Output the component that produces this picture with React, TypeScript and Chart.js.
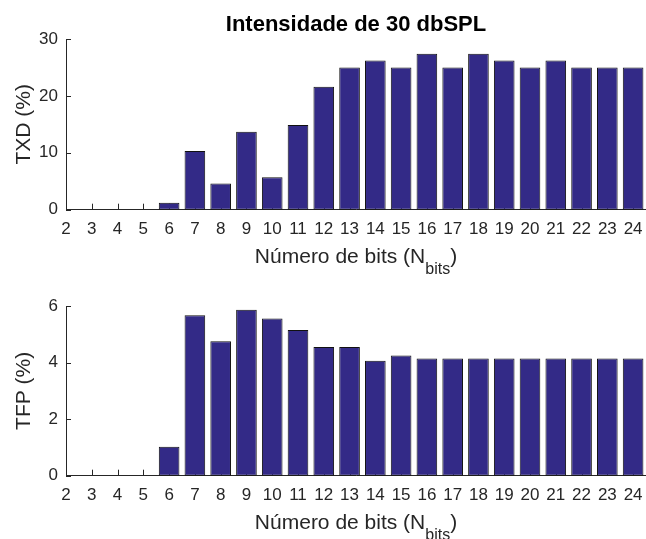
import React, { useEffect, useRef } from 'react';
import { Chart, registerables } from 'chart.js';

Chart.register(...registerables);

const bits = [2, 3, 4, 5, 6, 7, 8, 9, 10, 11, 12, 13, 14, 15, 16, 17, 18, 19, 20, 21, 22, 23, 24];
const txd = [0, 0, 0, 0, 1.2, 10.3, 4.6, 13.7, 5.7, 14.9, 21.6, 25, 26.2, 25, 27.4, 25, 27.4, 26.2, 25, 26.2, 25, 25, 25];
const tfp = [0, 0, 0, 0, 1.02, 5.67, 4.75, 5.87, 5.56, 5.15, 4.55, 4.55, 4.06, 4.25, 4.14, 4.14, 4.14, 4.14, 4.14, 4.14, 4.14, 4.14, 4.14];
const txdTicks = [0, 10, 20, 30];
const tfpTicks = [0, 2, 4, 6];
const chartTitle = 'Intensidade de 30 dbSPL';
const xTitleMain = 'Número de bits (N';
const xTitleSub = 'bits';
const xTitleEnd = ')';
const txdLabel = 'TXD (%)';
const tfpLabel = 'TFP (%)';

const FONT = "'Liberation Sans', Arial, Helvetica, sans-serif";
const AXIS_COLOR = '#262626';
const BAR_COLOR = '#332a87';

type PanelProps = {
  values: number[];
  yTicks: number[];
  yLabel: string;
  title?: string;
  top: number;
  height: number;
  areaTop: number;
  areaBottom: number;
};

function Panel({ values, yTicks, yLabel, title, top, height, areaTop, areaBottom }: PanelProps) {
  const ref = useRef<HTMLCanvasElement | null>(null);

  useEffect(() => {
    if (!ref.current) return;
    const decor = {
      id: 'decor',
      beforeDatasetsDraw(chart: any) {
        const { ctx, chartArea } = chart;
        const xs = chart.scales.x;
        const ys = chart.scales.y;
        ctx.save();
        ctx.strokeStyle = AXIS_COLOR;
        ctx.lineWidth = 1;
        ctx.beginPath();
        for (const v of bits) {
          const px = Math.round(xs.getPixelForValue(v)) + 0.5;
          ctx.moveTo(px, chartArea.bottom);
          ctx.lineTo(px, chartArea.bottom - 6);
        }
        for (const v of yTicks) {
          const py = Math.round(ys.getPixelForValue(v)) + 0.5;
          ctx.moveTo(chartArea.left, py);
          ctx.lineTo(chartArea.left + 5, py);
        }
        ctx.stroke();
        ctx.restore();
      },
      afterDraw(chart: any) {
        const { ctx, chartArea } = chart;
        const cx = (chartArea.left + chartArea.right) / 2;
        ctx.save();
        ctx.fillStyle = AXIS_COLOR;
        const mainFont = `21px ${FONT}`;
        const subFont = `16px ${FONT}`;
        ctx.font = mainFont;
        const w1 = ctx.measureText(xTitleMain).width;
        const w3 = ctx.measureText(xTitleEnd).width;
        ctx.font = subFont;
        const w2 = ctx.measureText(xTitleSub).width;
        const total = w1 + w2 + w3;
        const x0 = cx - total / 2;
        const base = chartArea.bottom + 53.5;
        ctx.textAlign = 'left';
        ctx.textBaseline = 'alphabetic';
        ctx.font = mainFont;
        ctx.fillText(xTitleMain, x0, base);
        ctx.font = subFont;
        ctx.fillText(xTitleSub, x0 + w1, base + 11);
        ctx.font = mainFont;
        ctx.fillText(xTitleEnd, x0 + w1 + w2, base);
        ctx.translate(30, (chartArea.top + chartArea.bottom) / 2);
        ctx.rotate(-Math.PI / 2);
        ctx.textAlign = 'center';
        ctx.fillText(yLabel, 0, 0);
        ctx.restore();
        if (title) {
          ctx.save();
          ctx.fillStyle = '#000000';
          ctx.font = `bold 22px ${FONT}`;
          ctx.textAlign = 'center';
          ctx.textBaseline = 'alphabetic';
          ctx.fillText(title, cx, 30.5);
          ctx.restore();
        }
      },
    };

    const chart = new Chart(ref.current, {
      type: 'bar',
      data: {
        datasets: [
          {
            data: bits.map((b, i) => ({ x: b, y: values[i] })),
            backgroundColor: BAR_COLOR,
            borderColor: '#111111',
            borderWidth: 1,
            borderSkipped: false,
            barPercentage: 0.8,
            categoryPercentage: 1.0,
          },
        ],
      },
      options: {
        responsive: false,
        animation: false,
        events: [],
        layout: { padding: { top: areaTop, left: 0, right: 0, bottom: 0 } },
        plugins: { legend: { display: false }, tooltip: { enabled: false }, title: { display: false } },
        scales: {
          x: {
            type: 'linear',
            min: 2,
            max: 24.5,
            offset: false,
            afterBuildTicks: (s: any) => {
              s.ticks = bits.map((v) => ({ value: v }));
            },
            afterFit: (s: any) => {
              s.height = height - areaBottom;
              s.paddingLeft = 0;
              s.paddingRight = 0;
            },
            grid: { display: false, drawTicks: false },
            border: { display: true, color: AXIS_COLOR, width: 1 },
            ticks: {
              color: AXIS_COLOR,
              font: { family: FONT, size: 17 },
              padding: 9,
              maxRotation: 0,
              autoSkip: false,
              callback: (v: any) => String(v),
            },
          },
          y: {
            type: 'linear',
            min: yTicks[0],
            max: yTicks[yTicks.length - 1],
            afterBuildTicks: (s: any) => {
              s.ticks = yTicks.map((v) => ({ value: v }));
            },
            afterFit: (s: any) => {
              s.width = 66;
              s.paddingTop = 0;
              s.paddingBottom = 0;
            },
            grid: { display: false, drawTicks: false },
            border: { display: true, color: AXIS_COLOR, width: 1 },
            ticks: {
              color: AXIS_COLOR,
              font: { family: FONT, size: 17 },
              padding: 8,
              callback: (v: any) => String(v),
            },
          },
        },
      },
      plugins: [decor],
    } as any);
    return () => chart.destroy();
  }, []);

  return (
    <canvas
      ref={ref}
      width={646}
      height={height}
      style={{ display: 'block', position: 'absolute', left: 0, top }}
    />
  );
}

export default function App() {
  return (
    <div style={{ position: 'absolute', left: 0, top: 0, width: 646, height: 539, background: '#ffffff', overflow: 'hidden' }}>
      <Panel values={txd} yTicks={txdTicks} yLabel={txdLabel} title={chartTitle} top={0} height={282} areaTop={39} areaBottom={209.7} />
      <Panel values={tfp} yTicks={tfpTicks} yLabel={tfpLabel} top={270} height={269} areaTop={36} areaBottom={205.7} />
    </div>
  );
}
